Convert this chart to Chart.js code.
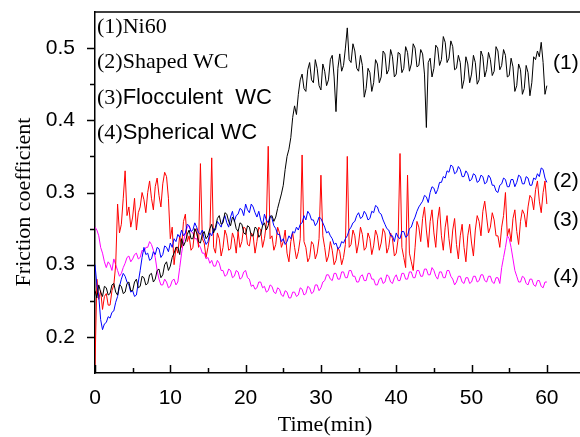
<!DOCTYPE html>
<html>
<head>
<meta charset="utf-8">
<script src="https://cdn.jsdelivr.net/npm/chart.js@4"></script>
<style>
  html, body { margin: 0; padding: 0; background: #fff; overflow: hidden; }
  #wrap { width: 580px; height: 437px; position: relative; }
</style>
</head>
<body>
<div id="wrap"><canvas id="chart"></canvas></div>
<script>
// time in minutes
const timeMin = [
  0,0.25,0.5,0.75,1,1.25,1.5,1.75,2,2.25,2.5,2.75,3,3.25,3.5,3.75,4,4.25,4.5,4.75,
  5,5.25,5.5,5.75,6,6.25,6.5,6.75,7,7.25,7.5,7.75,8,8.25,8.5,8.75,9,9.25,9.5,9.75,
  10,10.25,10.5,10.75,11,11.25,11.5,11.75,12,12.25,12.5,12.75,13,13.25,13.5,13.75,14,14.25,14.5,14.75,
  15,15.25,15.5,15.75,16,16.25,16.5,16.75,17,17.25,17.5,17.75,18,18.25,18.5,18.75,19,19.25,19.5,19.75,
  20,20.25,20.5,20.75,21,21.25,21.5,21.75,22,22.25,22.5,22.75,23,23.25,23.5,23.75,24,24.25,24.5,24.75,
  25,25.25,25.5,25.75,26,26.25,26.5,26.75,27,27.25,27.5,27.75,28,28.25,28.5,28.75,29,29.25,29.5,29.75,
  30,30.25,30.5,30.75,31,31.25,31.5,31.75,32,32.25,32.5,32.75,33,33.25,33.5,33.75,34,34.25,34.5,34.75,
  35,35.25,35.5,35.75,36,36.25,36.5,36.75,37,37.25,37.5,37.75,38,38.25,38.5,38.75,39,39.25,39.5,39.75,
  40,40.25,40.5,40.75,41,41.25,41.5,41.75,42,42.25,42.5,42.75,43,43.25,43.5,43.75,44,44.25,44.5,44.75,
  45,45.25,45.5,45.75,46,46.25,46.5,46.75,47,47.25,47.5,47.75,48,48.25,48.5,48.75,49,49.25,49.5,49.75,
  50,50.25,50.5,50.75,51,51.25,51.5,51.75,52,52.25,52.5,52.75,53,53.25,53.5,53.75,54,54.25,54.5,54.75,
  55,55.25,55.5,55.75,56,56.25,56.5,56.75,57,57.25,57.5,57.75,58,58.25,58.5,58.75,59,59.25,59.5,59.75,
  60
];

// (1) Ni60
const ni60 = [
  0.232,0.227,0.236,0.231,0.228,0.235,0.234,0.229,0.230,0.236,0.237,0.231,0.229,0.236,0.235,0.230,0.231,0.237,0.238,0.232,
  0.232,0.238,0.240,0.234,0.235,0.242,0.241,0.236,0.237,0.243,0.244,0.238,0.240,0.246,0.247,0.241,0.243,0.250,0.252,0.246,
  0.249,0.255,0.258,0.262,0.262,0.257,0.268,0.263,0.266,0.271,0.274,0.268,0.268,0.275,0.272,0.266,0.265,0.271,0.273,0.268,
  0.270,0.275,0.278,0.272,0.276,0.282,0.284,0.278,0.279,0.286,0.285,0.280,0.277,0.283,0.281,0.275,0.273,0.279,0.278,0.272,
  0.271,0.277,0.276,0.270,0.270,0.276,0.275,0.269,0.271,0.277,0.279,0.274,0.277,0.283,0.284,0.280,0.283,0.289,0.294,0.299,
  0.305,0.316,0.325,0.330,0.338,0.352,0.360,0.354,0.368,0.378,0.382,0.372,0.370,0.385,0.390,0.378,0.376,0.392,0.386,0.374,
  0.371,0.389,0.384,0.374,0.378,0.392,0.395,0.380,0.356,0.386,0.396,0.384,0.388,0.400,0.414,0.392,0.390,0.403,0.398,0.386,
  0.384,0.395,0.388,0.366,0.372,0.386,0.383,0.370,0.376,0.392,0.389,0.376,0.380,0.398,0.396,0.382,0.385,0.399,0.394,0.380,
  0.382,0.397,0.396,0.383,0.386,0.401,0.397,0.384,0.389,0.403,0.400,0.387,0.388,0.399,0.396,0.382,0.345,0.390,0.393,0.380,
  0.386,0.402,0.400,0.388,0.392,0.408,0.404,0.390,0.393,0.405,0.401,0.385,0.386,0.395,0.390,0.372,0.378,0.394,0.389,0.376,
  0.382,0.395,0.390,0.375,0.378,0.398,0.394,0.380,0.385,0.397,0.392,0.381,0.384,0.401,0.398,0.385,0.388,0.399,0.395,0.380,
  0.381,0.393,0.387,0.370,0.374,0.389,0.385,0.368,0.372,0.388,0.383,0.367,0.376,0.394,0.392,0.398,0.394,0.404,0.390,0.368,
  0.374
];

// (2) Shaped WC
const shapedWC = [
  0.250,0.236,0.228,0.212,0.205,0.209,0.210,0.214,0.213,0.217,0.218,0.224,0.228,0.235,0.240,0.244,0.242,0.238,0.236,0.231,
  0.232,0.228,0.229,0.238,0.246,0.255,0.262,0.257,0.258,0.253,0.254,0.259,0.257,0.262,0.261,0.255,0.257,0.263,0.262,0.259,
  0.265,0.262,0.268,0.266,0.271,0.269,0.274,0.270,0.272,0.278,0.277,0.273,0.274,0.279,0.276,0.272,0.271,0.274,0.268,0.264,
  0.266,0.272,0.270,0.275,0.274,0.280,0.278,0.276,0.281,0.284,0.279,0.276,0.283,0.287,0.280,0.284,0.285,0.289,0.288,0.284,
  0.292,0.288,0.286,0.292,0.290,0.286,0.283,0.287,0.281,0.277,0.285,0.281,0.279,0.284,0.282,0.277,0.275,0.271,0.271,0.266,
  0.268,0.264,0.266,0.270,0.268,0.273,0.272,0.276,0.274,0.278,0.279,0.284,0.281,0.287,0.285,0.281,0.281,0.277,0.279,0.283,
  0.282,0.279,0.276,0.272,0.273,0.270,0.268,0.264,0.265,0.261,0.262,0.266,0.265,0.268,0.270,0.274,0.276,0.279,0.280,0.284,
  0.286,0.282,0.283,0.287,0.285,0.281,0.282,0.287,0.286,0.291,0.290,0.286,0.285,0.281,0.278,0.275,0.274,0.270,0.270,0.266,
  0.272,0.269,0.268,0.273,0.273,0.269,0.270,0.275,0.276,0.280,0.283,0.287,0.290,0.292,0.294,0.298,0.297,0.293,0.300,0.304,
  0.303,0.299,0.302,0.307,0.307,0.311,0.310,0.315,0.314,0.319,0.318,0.313,0.314,0.318,0.316,0.311,0.311,0.315,0.313,0.308,
  0.309,0.313,0.312,0.307,0.308,0.312,0.311,0.306,0.307,0.312,0.310,0.305,0.305,0.301,0.300,0.305,0.306,0.310,0.309,0.304,
  0.304,0.309,0.309,0.304,0.307,0.312,0.311,0.306,0.306,0.311,0.310,0.305,0.305,0.310,0.309,0.313,0.311,0.317,0.316,0.310,
  0.307
];

// (3) Flocculent WC
const flocculentWC = [
  0.180,0.240,0.226,0.232,0.219,0.228,0.230,0.222,0.222,0.232,0.236,0.250,0.292,0.272,0.278,0.296,0.315,0.284,0.290,0.276,
  0.283,0.296,0.274,0.286,0.290,0.300,0.295,0.286,0.300,0.308,0.296,0.288,0.304,0.310,0.298,0.290,0.306,0.314,0.311,0.296,
  0.268,0.276,0.250,0.262,0.258,0.270,0.262,0.280,0.285,0.266,0.270,0.260,0.262,0.274,0.275,0.262,0.320,0.268,0.265,0.255,
  0.262,0.270,0.324,0.262,0.258,0.272,0.268,0.256,0.262,0.274,0.270,0.260,0.261,0.272,0.268,0.258,0.273,0.262,0.266,0.276,
  0.275,0.264,0.263,0.272,0.270,0.258,0.266,0.276,0.274,0.262,0.268,0.278,0.332,0.268,0.270,0.260,0.264,0.276,0.272,0.262,
  0.266,0.274,0.258,0.252,0.266,0.272,0.262,0.254,0.259,0.268,0.326,0.266,0.262,0.252,0.255,0.266,0.264,0.254,0.258,0.268,
  0.312,0.270,0.262,0.252,0.256,0.266,0.260,0.250,0.253,0.262,0.259,0.250,0.255,0.264,0.325,0.262,0.264,0.274,0.270,0.258,
  0.265,0.276,0.271,0.260,0.262,0.272,0.268,0.257,0.263,0.274,0.270,0.260,0.265,0.275,0.272,0.258,0.262,0.272,0.268,0.256,
  0.258,0.268,0.327,0.262,0.255,0.248,0.312,0.258,0.252,0.246,0.262,0.280,0.276,0.266,0.282,0.290,0.274,0.262,0.280,0.288,
  0.272,0.262,0.281,0.290,0.270,0.260,0.276,0.284,0.268,0.258,0.274,0.282,0.264,0.254,0.270,0.278,0.262,0.252,0.270,0.278,
  0.265,0.256,0.274,0.284,0.280,0.270,0.287,0.294,0.283,0.272,0.276,0.286,0.281,0.270,0.270,0.262,0.276,0.284,0.300,0.270,
  0.275,0.266,0.282,0.288,0.273,0.264,0.280,0.288,0.285,0.276,0.290,0.298,0.296,0.288,0.302,0.308,0.294,0.286,0.300,0.308,
  0.292
];

// (4) Spherical WC
const sphericalWC = [
  0.276,0.274,0.270,0.262,0.258,0.252,0.248,0.252,0.250,0.246,0.254,0.250,0.246,0.242,0.244,0.248,0.251,0.255,0.256,0.252,
  0.254,0.257,0.258,0.254,0.255,0.260,0.259,0.262,0.262,0.266,0.264,0.260,0.255,0.246,0.240,0.236,0.236,0.240,0.238,0.234,
  0.235,0.239,0.240,0.236,0.238,0.248,0.258,0.266,0.272,0.276,0.277,0.273,0.272,0.268,0.268,0.264,0.262,0.258,0.258,0.254,
  0.255,0.251,0.253,0.249,0.249,0.253,0.251,0.246,0.246,0.242,0.243,0.247,0.246,0.241,0.242,0.246,0.245,0.240,0.241,0.245,
  0.246,0.241,0.240,0.235,0.236,0.233,0.234,0.238,0.238,0.234,0.235,0.231,0.232,0.236,0.235,0.231,0.230,0.234,0.233,0.229,
  0.228,0.232,0.231,0.227,0.227,0.231,0.231,0.228,0.229,0.234,0.233,0.229,0.230,0.235,0.234,0.230,0.231,0.236,0.236,0.232,
  0.234,0.238,0.239,0.243,0.243,0.240,0.239,0.244,0.244,0.240,0.240,0.245,0.245,0.241,0.241,0.246,0.246,0.242,0.242,0.238,
  0.238,0.242,0.243,0.239,0.239,0.244,0.244,0.240,0.240,0.236,0.236,0.240,0.241,0.237,0.238,0.243,0.242,0.238,0.237,0.241,
  0.243,0.239,0.239,0.244,0.244,0.240,0.240,0.245,0.245,0.241,0.241,0.246,0.246,0.242,0.242,0.247,0.247,0.243,0.243,0.248,
  0.246,0.242,0.240,0.245,0.245,0.241,0.241,0.246,0.246,0.242,0.240,0.236,0.238,0.242,0.242,0.238,0.237,0.241,0.241,0.237,
  0.238,0.242,0.242,0.238,0.239,0.243,0.243,0.239,0.238,0.242,0.242,0.238,0.237,0.241,0.241,0.237,0.248,0.255,0.262,0.270,
  0.268,0.262,0.254,0.246,0.242,0.238,0.238,0.242,0.241,0.237,0.236,0.240,0.240,0.236,0.235,0.239,0.239,0.235,0.234,0.238,
  0.238
];

// axis ticks (labels as printed on the original figure)
const yTickValues = [0.2, 0.25, 0.3, 0.35, 0.4];
const yTickLabels = ["0.2", "0.3", "0.3", "0.4", "0.5"];
const yMinorValues = [0.225, 0.275, 0.325, 0.375];
const xTickValues = [0, 10, 20, 30, 40, 50, 60];
const xMinorValues = [5, 15, 25, 35, 45, 55];

const seriesNames = ["(1)Ni60", "(2)Shaped WC", "(3)Flocculent  WC", "(4)Spherical WC"];
const seriesTags = ["(1)", "(2)", "(3)", "(4)"];
const colors = ["#000000", "#0000ff", "#ff0000", "#ff00ff"];

const SERIF = "'Liberation Serif', 'Times New Roman', serif";
const SANS = "'Liberation Sans', Arial, sans-serif";

const toPoints = arr => arr.map((v, i) => ({ x: timeMin[i], y: v }));

// minor/major tick marks, frame top line and the text annotations
const decorPlugin = {
  id: "decor",
  afterDraw(chart) {
    const { ctx, chartArea: a, scales: { x, y } } = chart;
    ctx.save();
    ctx.strokeStyle = "#000";
    ctx.lineWidth = 1.5;
    ctx.beginPath();
    ctx.moveTo(a.left, a.top); ctx.lineTo(a.right, a.top);
    yTickValues.forEach(v => { const p = Math.round(y.getPixelForValue(v)) + 0.5; ctx.moveTo(a.left - 8, p); ctx.lineTo(a.left, p); });
    yMinorValues.forEach(v => { const p = Math.round(y.getPixelForValue(v)) + 0.5; ctx.moveTo(a.left - 5, p); ctx.lineTo(a.left, p); });
    xTickValues.forEach(v => { const p = Math.round(x.getPixelForValue(v)) + 0.5; ctx.moveTo(p, a.bottom); ctx.lineTo(p, a.bottom - 8); });
    xMinorValues.forEach(v => { const p = Math.round(x.getPixelForValue(v)) + 0.5; ctx.moveTo(p, a.bottom); ctx.lineTo(p, a.bottom - 5); });
    ctx.stroke();

    ctx.fillStyle = "#000";
    ctx.textBaseline = "middle";

    // axis titles
    ctx.font = "22px " + SERIF;
    ctx.textAlign = "center";
    ctx.fillText("Time(min)", 325, 425);
    ctx.save();
    ctx.translate(24, 202);
    ctx.rotate(-Math.PI / 2);
    ctx.fillText("Friction coefficient", 0, 0);
    ctx.restore();

    // legend block, top-left
    ctx.textAlign = "left";
    const legendY = [27, 62, 98, 133];
    seriesNames.forEach((name, i) => {
      const tag = seriesTags[i];
      const rest = name.slice(tag.length);
      ctx.font = "22px " + SERIF;
      ctx.fillText(tag, 97, legendY[i]);
      const w = ctx.measureText(tag).width;
      ctx.font = (i < 2 ? "22px " + SERIF : "22px " + SANS);
      ctx.fillText(rest, 97 + w, legendY[i]);
    });

    // curve tags at the right
    ctx.font = "21px " + SANS;
    const tagY = [63, 181, 220, 277];
    seriesTags.forEach((t, i) => ctx.fillText(t, 553, tagY[i]));
    ctx.restore();
  }
};

new Chart(document.getElementById("chart"), {
  type: "line",
  data: {
    datasets: [ni60, shapedWC, flocculentWC, sphericalWC].map((arr, i) => ({
      label: seriesNames[i],
      data: toPoints(arr),
      borderColor: colors[i],
      borderWidth: 1,
      pointRadius: 0,
      tension: 0,
      fill: false
    }))
  },
  options: {
    responsive: true,
    maintainAspectRatio: false,
    animation: false,
    events: [],
    layout: { padding: { top: 12, right: 0, left: 0, bottom: 0 } },
    plugins: { legend: { display: false }, tooltip: { enabled: false } },
    scales: {
      x: {
        type: "linear",
        min: 0, max: 64.4,
        afterBuildTicks: s => { s.ticks = xTickValues.map(v => ({ value: v })); },
        afterFit: s => { s.height = 64; s.paddingLeft = 0; s.paddingRight = 0; },
        grid: { display: false },
        border: { display: true, color: "#000", width: 1.5 },
        ticks: { padding: 5, color: "#000", font: { family: SANS, size: 21 }, maxRotation: 0 }
      },
      y: {
        min: 0.175, max: 0.425,
        afterBuildTicks: s => { s.ticks = yTickValues.map(v => ({ value: v })); },
        afterFit: s => { s.width = 95; s.paddingTop = 0; s.paddingBottom = 0; },
        grid: { display: false },
        border: { display: true, color: "#000", width: 1.5 },
        ticks: {
          padding: 12, color: "#000", font: { family: SANS, size: 21 },
          callback: (v, i) => yTickLabels[i]
        }
      }
    }
  },
  plugins: [decorPlugin]
});
</script>
</body>
</html>
